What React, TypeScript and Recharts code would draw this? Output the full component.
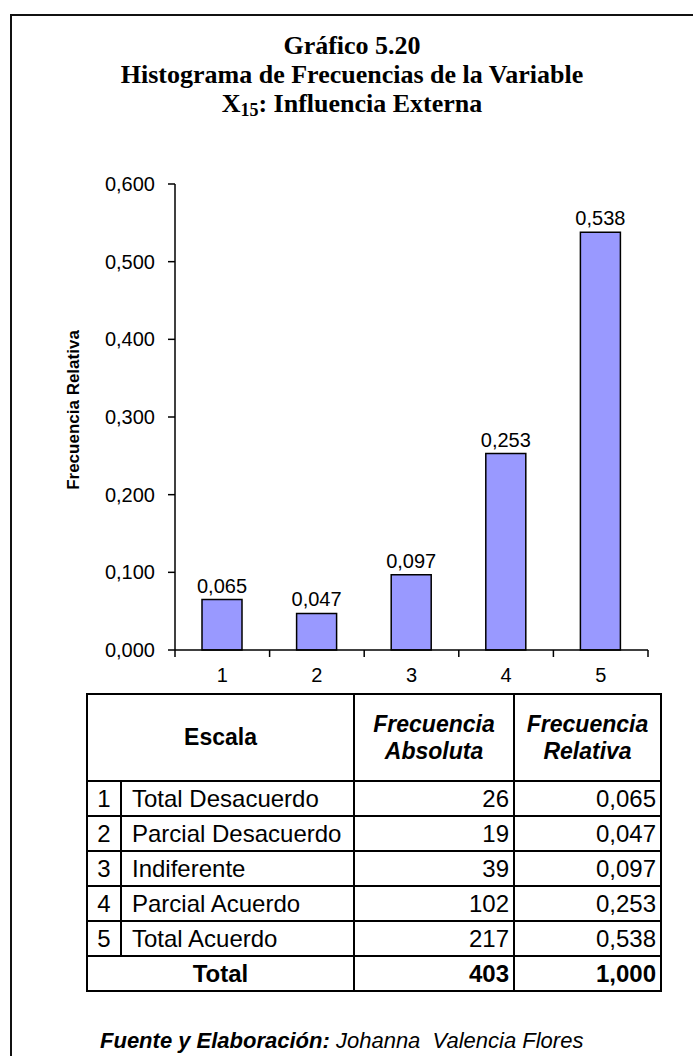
// App.tsx
import { BarChart, Bar, XAxis, YAxis, LabelList } from 'recharts';

const categories = ['1', '2', '3', '4', '5'];
const relativeFreq = [0.065, 0.047, 0.097, 0.253, 0.538];
const absoluteFreq = [26, 19, 39, 102, 217];
const scaleNames = ['Total Desacuerdo', 'Parcial Desacuerdo', 'Indiferente', 'Parcial Acuerdo', 'Total Acuerdo'];
const yTicks = [0, 0.1, 0.2, 0.3, 0.4, 0.5, 0.6];
const totalAbsolute = 403;
const totalRelative = 1.0;

const SANS = '"Liberation Sans", Arial, sans-serif';
const SERIF = '"Liberation Serif", "Times New Roman", serif';

const CHART_W = 693;
const CHART_H = 530;
const MARGIN = { top: 24, right: 45, left: 0, bottom: 0 };
const Y_AXIS_W = 175;
const X_AXIS_H = 40;
const PLOT_H = CHART_H - MARGIN.top - MARGIN.bottom - X_AXIS_H;
const PLOT_W = CHART_W - MARGIN.left - MARGIN.right - Y_AXIS_W;
const AXIS_Y = MARGIN.top + PLOT_H;

const fmt = (v: number) => v.toFixed(3).replace('.', ',');

const data = categories.map((c, i) => ({ cat: c, rel: relativeFreq[i] }));

function XTick(props: any) {
  const { x, payload, index } = props;
  const half = payload?.offset || PLOT_W / categories.length / 2;
  return (
    <g>
      <line x1={x - half} x2={x - half} y1={AXIS_Y} y2={AXIS_Y + 7} stroke="#000" strokeWidth={1.5} />
      {index === categories.length - 1 && (
        <line x1={x + half} x2={x + half} y1={AXIS_Y} y2={AXIS_Y + 7} stroke="#000" strokeWidth={1.5} />
      )}
      <text x={x} y={AXIS_Y + 32} textAnchor="middle" fontSize={20} fontFamily={SANS} fill="#000">
        {payload.value}
      </text>
    </g>
  );
}

const cell: React.CSSProperties = {
  border: '2.5px solid #000',
  padding: '0 4px',
  fontSize: 24,
  lineHeight: '26px',
};

const head: React.CSSProperties = {
  ...cell,
  textAlign: 'center',
  fontWeight: 'bold',
  fontSize: 23,
  lineHeight: '27px',
};

export default function App() {
  return (
    <div
      style={{
        position: 'absolute',
        left: 0,
        top: 0,
        width: 693,
        height: 1056,
        overflow: 'hidden',
        background: '#fff',
        fontFamily: SANS,
        color: '#000',
      }}
    >
      <div
        style={{
          position: 'absolute',
          left: 10,
          top: 14,
          width: 720,
          height: 1080,
          borderTop: '2.5px solid #111',
          borderLeft: '2.5px solid #111',
        }}
      />
      <div
        style={{
          position: 'absolute',
          left: 10,
          top: 31,
          width: 684,
          textAlign: 'center',
          fontFamily: SERIF,
          fontWeight: 'bold',
          fontSize: 26,
          lineHeight: '29px',
        }}
      >
        <div>Gráfico 5.20</div>
        <div>Histograma de Frecuencias de la Variable</div>
        <div>
          X<sub style={{ fontSize: 18, verticalAlign: '-4px', lineHeight: 0 }}>15</sub>: Influencia Externa
        </div>
      </div>

      <div
        style={{
          position: 'absolute',
          left: 74,
          top: 410,
          transform: 'translate(-50%, -50%) rotate(-90deg)',
          fontWeight: 'bold',
          fontSize: 17,
          whiteSpace: 'nowrap',
        }}
      >
        Frecuencia Relativa
      </div>

      <div style={{ position: 'absolute', left: 0, top: 160 }}>
        <BarChart width={CHART_W} height={CHART_H} data={data} margin={MARGIN} barCategoryGap="29%">
          <XAxis
            dataKey="cat"
            height={X_AXIS_H}
            axisLine={{ stroke: '#000', strokeWidth: 1.5 }}
            tickLine={false}
            tick={<XTick />}
            interval={0}
          />
          <YAxis
            width={Y_AXIS_W}
            domain={[0, 0.6]}
            ticks={yTicks}
            tickFormatter={fmt}
            axisLine={{ stroke: '#000', strokeWidth: 1.5 }}
            tickLine={{ stroke: '#000', strokeWidth: 1.5 }}
            tickSize={7}
            tickMargin={13}
            tick={{ fontSize: 20, fontFamily: SANS, fill: '#000' }}
          />
          <Bar dataKey="rel" fill="#9999FF" stroke="#000" strokeWidth={1.5} barSize={40} isAnimationActive={false}>
            <LabelList
              dataKey="rel"
              position="top"
              offset={7}
              formatter={(v: any) => fmt(Number(v))}
              style={{ fontSize: 20, fontFamily: SANS, fill: '#000' }}
            />
          </Bar>
        </BarChart>
      </div>

      <table
        style={{
          position: 'absolute',
          left: 86,
          top: 693,
          width: 574,
          borderCollapse: 'collapse',
          tableLayout: 'fixed',
        }}
      >
        <colgroup>
          <col style={{ width: 34 }} />
          <col style={{ width: 233 }} />
          <col style={{ width: 160 }} />
          <col style={{ width: 147 }} />
        </colgroup>
        <tbody>
          <tr style={{ height: 87 }}>
            <td colSpan={2} style={head}>Escala</td>
            <td style={{ ...head, fontStyle: 'italic' }}>
              Frecuencia
              <br />
              Absoluta
            </td>
            <td style={{ ...head, fontStyle: 'italic' }}>
              Frecuencia
              <br />
              Relativa
            </td>
          </tr>
          {categories.map((c, i) => (
            <tr key={c} style={{ height: 35 }}>
              <td style={{ ...cell, textAlign: 'center', padding: 0 }}>{c}</td>
              <td style={{ ...cell, paddingLeft: 10, whiteSpace: 'nowrap' }}>{scaleNames[i]}</td>
              <td style={{ ...cell, textAlign: 'right' }}>{absoluteFreq[i]}</td>
              <td style={{ ...cell, textAlign: 'right' }}>{fmt(relativeFreq[i])}</td>
            </tr>
          ))}
          <tr style={{ height: 35 }}>
            <td colSpan={2} style={{ ...cell, textAlign: 'center', fontWeight: 'bold' }}>Total</td>
            <td style={{ ...cell, textAlign: 'right', fontWeight: 'bold' }}>{totalAbsolute}</td>
            <td style={{ ...cell, textAlign: 'right', fontWeight: 'bold' }}>{fmt(totalRelative)}</td>
          </tr>
        </tbody>
      </table>

      <div
        style={{
          position: 'absolute',
          left: 100,
          top: 1029,
          fontSize: 22,
          lineHeight: '24px',
          fontStyle: 'italic',
          whiteSpace: 'pre',
        }}
      >
        <b>Fuente y Elaboración:</b> Johanna  Valencia Flores
      </div>
    </div>
  );
}
